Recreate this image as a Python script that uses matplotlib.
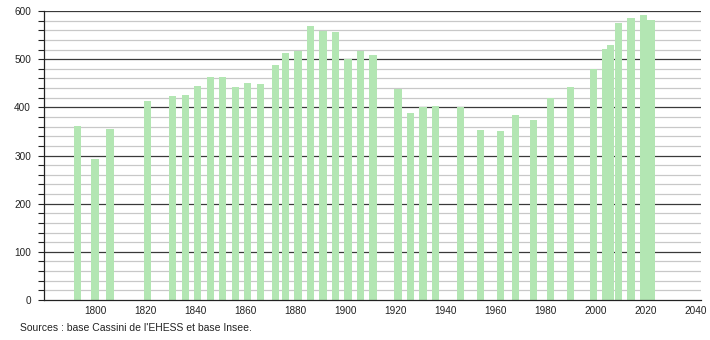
import matplotlib.pyplot as plt
import numpy as np

years = [1793, 1800, 1806, 1821, 1831, 1836, 1841, 1846, 1851, 1856, 1861, 1866,
         1872, 1876, 1881, 1886, 1891, 1896, 1901, 1906, 1911, 1921, 1926, 1931,
         1936, 1946, 1954, 1962, 1968, 1975, 1982, 1990, 1999, 2004, 2006, 2009,
         2014, 2019, 2022]
population = [362, 292, 354, 414, 424, 426, 445, 463, 463, 443, 451, 449,
              488, 513, 517, 569, 559, 557, 501, 517, 509, 438, 389, 401,
              403, 401, 352, 350, 385, 374, 419, 443, 479, 521, 529, 575,
              585, 592, 581]
x_ticks = [1800, 1820, 1840, 1860, 1880, 1900, 1920, 1940, 1960, 1980, 2000, 2020, 2040]
y_ticks = [0, 100, 200, 300, 400, 500, 600]

plt.rcParams['font.family'] = ['Liberation Sans', 'DejaVu Sans']

fig = plt.figure(figsize=(7.1, 3.4), dpi=100)
ax = fig.add_axes([44/710, 1-300/340, 657/710, 289/340])

# grid lines
for v in np.arange(20, 600, 20):
    if v % 100:
        ax.axhline(v, color='#c8c8c8', lw=0.9, zorder=0)
for v in y_ticks[1:]:
    ax.axhline(v, color='#3a3a3a', lw=0.9, zorder=0)

ax.bar(years, population, width=2.9, color='#b3e6b3', zorder=2)

ax.set_xlim(1779.6, 2042)
ax.set_ylim(0, 600)
ax.set_xticks(x_ticks)
ax.set_yticks(y_ticks)
ax.set_yticks(np.arange(0, 601, 20), minor=True)
ax.tick_params(axis='x', length=0, pad=4, labelsize=7.2, colors='#222222')
ax.tick_params(axis='y', which='both', length=4.3, width=0.8, pad=5, labelsize=7.2,
               colors='#222222')
for s in ['top', 'right']:
    ax.spines[s].set_visible(False)
for s in ['left', 'bottom']:
    ax.spines[s].set_color('#222222')
    ax.spines[s].set_linewidth(0.9)

fig.text(20/710, 1-328/340, "Sources : base Cassini de l'EHESS et base Insee.",
         fontsize=7.5, color='#222222', va='center')

fig.savefig('out.png', dpi=100)
